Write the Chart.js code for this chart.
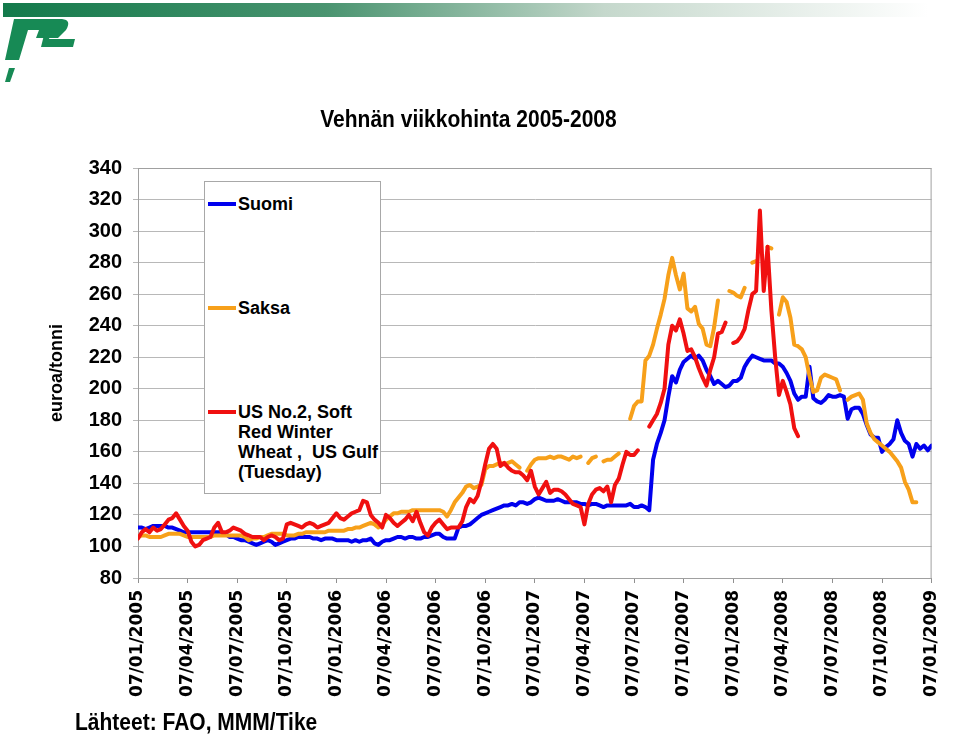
<!DOCTYPE html>
<html>
<head>
<meta charset="utf-8">
<script src="https://cdn.jsdelivr.net/npm/chart.js@4.4.0/dist/chart.umd.min.js"></script>
<style>
  body { margin: 0; background: #fff; font-family: "Liberation Sans", Arial, sans-serif; }
  #wrap { position: relative; width: 959px; height: 736px; overflow: hidden; }
  #c { position: absolute; left: 0; top: 0; }
  #logo { position: absolute; left: 0; top: 0; }
  #title { position: absolute; left: 0; top: 107px; width: 937px; text-align: center;
           font-weight: bold; font-size: 21px; line-height: 24px; transform: scaleY(1.12); }
  #source { position: absolute; left: 75px; top: 711px; font-weight: bold; font-size: 21px; line-height: 22px;
            transform: scaleY(1.1); transform-origin: left center; }
  #legend { position: absolute; left: 204px; top: 181px; width: 175px; height: 311px;
            border: 1px solid #a8a8a8; background: #fff; }
  .item { position: absolute; left: 33px; font-weight: bold; font-size: 18px; line-height: 20px; white-space: nowrap; }
  .sw { position: absolute; left: 3px; width: 28px; height: 4px; }
</style>
</head>
<body>
<div id="wrap">
  <canvas id="c" width="959" height="736"></canvas>
  <svg id="logo" width="959" height="90">
    <defs>
      <linearGradient id="g" x1="0" x2="1" y1="0" y2="0">
        <stop offset="0" stop-color="#137a4b"/>
        <stop offset="0.35" stop-color="#4a9470"/>
        <stop offset="0.65" stop-color="#c5d8cc"/>
        <stop offset="1" stop-color="#ffffff"/>
      </linearGradient>
    </defs>
    <rect x="3" y="3" width="925" height="14" fill="url(#g)"/>
    <path d="M14,19 L62,19 Q72,20 66,30 L58,38 L36,38 L39,30 L28,30 L19,60 L5,60 Z" fill="#178a55"/>
    <path d="M45,31 L52,31 L49,39 L75,39 L73,47 L41,47 Z" fill="#178a55"/>
    <path d="M9,68 L15,68 L10,82 L5,82 Z" fill="#178a55"/>
  </svg>
  <div id="title">Vehnän viikkohinta 2005-2008</div>
  <div id="legend">
    <span class="sw" style="top:20px;background:#0000ee"></span>
    <div class="item" style="top:12px">Suomi</div>
    <span class="sw" style="top:124px;background:#f7a01a"></span>
    <div class="item" style="top:116px">Saksa</div>
    <span class="sw" style="top:228px;background:#f01010"></span>
    <div class="item" style="top:220px">US No.2, Soft<br>Red Winter<br>Wheat ,&nbsp; US Gulf<br>(Tuesday)</div>
  </div>
  <div id="source">Lähteet: FAO, MMM/Tike</div>
</div>
<script>
// x-akselin neljännesvuosien nimet (13 viikon välein)
var quarterLabels = ['07/01/2005', '07/04/2005', '07/07/2005', '07/10/2005',
  '07/01/2006', '07/04/2006', '07/07/2006', '07/10/2006',
  '07/01/2007', '07/04/2007', '07/07/2007', '07/10/2007',
  '07/01/2008', '07/04/2008', '07/07/2008', '07/10/2008', '07/01/2009'];

// viikkohinnat, euroa/tonni, viikko 0 = 07/01/2005
var suomi = [
  112,112,111,112,113,113,113,113,112,112,
  111,110,109,109,109,109,109,109,109,109,
  109,109,109,108,106,106,105,104,104,103,
  102,101,102,103,104,103,101,102,103,104,
  105,105,106,106,106,106,105,105,104,105,
  105,105,104,104,104,104,103,104,103,104,
  104,105,102,101,103,104,104,105,106,106,
  105,106,106,105,105,106,106,107,108,108,
  106,105,105,105,112,113,113,114,116,118,
  120,121,122,123,124,125,126,126,127,126,
  128,128,127,128,130,131,130,129,129,129,
  130,129,128,128,128,128,127,127,126,127,
  127,126,125,126,126,126,126,126,126,127,
  125,125,126,125,123,155,165,172,180,195,
  208,204,212,217,219,221,219,221,218,212,
  208,203,205,203,201,202,205,205,207,214,
  218,221,220,219,218,218,218,216,216,214,
  210,205,197,193,195,195,214,194,192,191,
  193,196,195,195,196,195,181,187,188,188,
  184,177,171,169,169,160,163,165,168,180,
  172,167,165,157,165,162,164,161,164
];

var saksa = [
  106,107,107,106,106,106,106,107,108,108,
  108,108,107,106,106,106,106,106,106,106,
  107,107,107,107,107,107,107,107,106,104,
  105,105,106,106,107,108,108,108,108,107,
  107,107,108,108,109,109,109,109,109,109,
  110,110,110,110,110,111,111,112,112,113,
  114,115,114,112,114,117,119,121,121,122,
  122,122,123,123,123,123,123,123,123,123,
  122,119,123,128,131,134,138,139,137,138,
  139,149,151,151,152,153,152,153,154,152,
  150,null,148,152,155,156,156,156,157,156,
  157,157,156,155,157,156,157,null,153,156,
  157,null,154,155,155,157,159,null,null,181,
  189,192,192,218,221,228,238,247,257,272,
  283,272,263,273,251,249,252,241,238,228,
  227,239,256,null,null,262,261,259,258,264,
  null,280,281,null,null,290,289,null,247,258,
  255,245,228,227,225,220,208,198,199,207,
  209,208,207,206,199,null,193,195,196,197,
  193,178,172,168,166,164,162,160,157,154,
  150,141,136,128,128,null,null,null,null
];

var usGulf = [
  105,109,111,109,112,110,111,114,117,118,
  121,117,113,110,103,100,101,104,105,106,
  112,115,109,109,110,112,111,110,108,107,
  106,106,106,104,106,107,106,104,105,114,
  115,114,113,112,114,115,114,112,113,114,
  115,118,121,118,117,119,121,122,123,129,
  128,120,117,115,112,120,118,115,113,115,
  117,120,116,122,115,109,107,112,115,117,
  114,111,112,112,112,116,125,130,128,132,
  141,152,162,165,162,151,153,150,148,147,
  147,145,142,148,138,133,137,141,134,136,
  136,135,133,130,127,126,125,114,127,133,
  136,137,135,138,128,139,143,152,160,158,
  158,161,null,null,176,180,184,191,200,228,
  240,237,244,235,224,225,220,213,207,202,
  212,220,235,236,242,null,229,230,233,238,
  250,260,262,313,262,290,250,220,196,205,
  198,190,175,170,null,null,null,null,null,null,
  null,null,null,null,null,null,null,null,null,null,
  null,null,null,null,null,null,null,null,null,null,
  null,null,null,null,null,null,null,null,null
];

function toPoints(arr) {
  return arr.map(function (v, i) { return { x: i, y: v }; });
}

// kehys piirtoalueen ympärille
var frame = {
  id: 'frame',
  beforeDatasetsDraw: function (chart) {
    var ctx = chart.ctx, a = chart.chartArea;
    ctx.save();
    ctx.strokeStyle = '#a0a0a0';
    ctx.lineWidth = 1;
    ctx.strokeRect(a.left + 0.5, a.top + 0.5, a.right - a.left - 1, a.bottom - a.top);
    ctx.restore();
  }
};

var ctx = document.getElementById('c').getContext('2d');

var lineStyle = { borderWidth: 4, pointRadius: 0, tension: 0, spanGaps: false,
  borderJoinStyle: 'round', borderCapStyle: 'round', fill: false };

var myChart = new Chart(ctx, {
  type: 'line',
  data: {
    datasets: [
      Object.assign({ label: 'US No.2, Soft Red Winter Wheat , US Gulf (Tuesday)', data: toPoints(usGulf),
        borderColor: '#f01010', order: 0 }, lineStyle),
      Object.assign({ label: 'Saksa', data: toPoints(saksa), borderColor: '#f7a01a', order: 1 }, lineStyle),
      Object.assign({ label: 'Suomi', data: toPoints(suomi), borderColor: '#0000ee', order: 2 }, lineStyle)
    ]
  },
  options: {
    responsive: false,
    animation: false,
    devicePixelRatio: 1,
    layout: { padding: { left: 0, right: 24, top: 168, bottom: 0 } },
    plugins: { legend: { display: false }, tooltip: { enabled: false }, title: { display: false } },
    scales: {
      x: {
        type: 'linear',
        min: 0,
        max: 208,
        afterBuildTicks: function (scale) {
          scale.ticks = quarterLabels.map(function (l, i) { return { value: i * 13 }; });
        },
        afterFit: function (scale) { scale.height = 158; },
        ticks: {
          autoSkip: false,
          maxRotation: 90,
          minRotation: 90,
          padding: 7,
          color: '#000',
          font: { family: 'DejaVu Sans', weight: 'bold', size: 17 },
          callback: function (v) { return quarterLabels[Math.round(v / 13)]; }
        },
        grid: { drawOnChartArea: false, drawTicks: true, tickLength: 5, color: '#909090' },
        border: { display: true, color: '#909090' }
      },
      y: {
        min: 80,
        max: 340,
        afterFit: function (scale) { scale.width = 138; },
        ticks: {
          stepSize: 20,
          padding: 11,
          color: '#000',
          font: { family: 'Liberation Sans', weight: 'bold', size: 20 }
        },
        grid: { color: '#b8b8b8', tickLength: 5 },
        border: { display: true, color: '#909090' },
        title: {
          display: true,
          text: 'euroa/tonni',
          color: '#000',
          font: { family: 'Liberation Sans', weight: 'bold', size: 18 },
          padding: { top: 46, bottom: 0 }
        }
      }
    }
  },
  plugins: [frame]
});
</script>
</body>
</html>
